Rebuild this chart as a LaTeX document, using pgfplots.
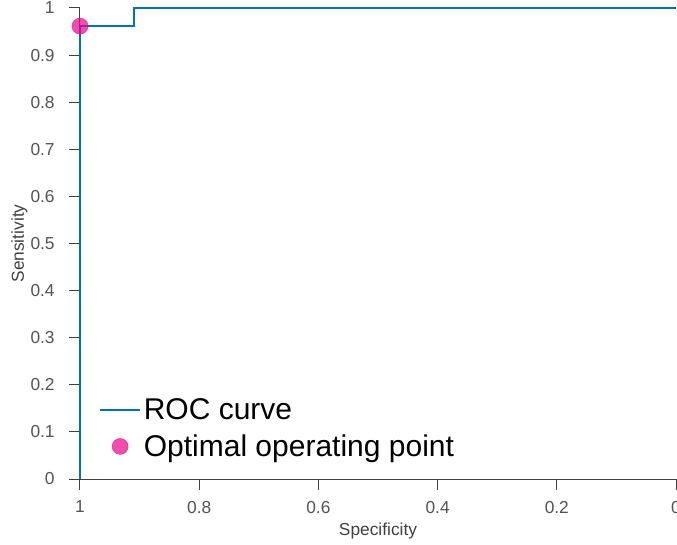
\documentclass[border=0pt]{standalone}
\usepackage{pgfplots}
\pgfplotsset{compat=1.18}
\usepackage{fontspec}
\setmainfont{Liberation Sans}
\definecolor{matblue}{RGB}{0,114,189}
\definecolor{axgray}{RGB}{64,64,64}
\begin{document}
\begin{tikzpicture}[x=1pt,y=1pt]
\begin{axis}[
  at={(0,0)}, anchor=south west,
  scale only axis,
  width=447pt, height=353.25pt,
  xmin=0, xmax=1, ymin=0, ymax=1,
  x dir=reverse,
  axis lines*=left,
  clip=false,
  axis line style={axgray, line width=0.75pt},
  tick style={axgray, line width=0.75pt},
  tick align=outside,
  major tick length=8pt,
  xtick={0,0.2,0.4,0.6,0.8,1},
  xticklabels={0,0.2,0.4,0.6,0.8,1},
  ytick={0,0.1,0.2,0.3,0.4,0.5,0.6,0.7,0.8,0.9,1},
  yticklabels={0,0.1,0.2,0.3,0.4,0.5,0.6,0.7,0.8,0.9,1},
  ticklabel style={font=\fontsize{13}{15}\selectfont, text=axgray!90},
  xticklabel style={yshift=-5pt},
  yticklabel style={xshift=-7.5pt},
  label style={font=\fontsize{13}{15}\selectfont, text=axgray},
  xlabel={Specificity},
  ylabel={Sensitivity},
  xlabel style={at={(axis description cs:0.5,0)}, anchor=center, yshift=-39pt},
  ylabel style={at={(axis description cs:0,0.5)}, anchor=center, yshift=45.5pt},
  legend style={draw=none, fill=none, at={(0.025,0.032)}, anchor=south west,
    font=\fontsize{22.5}{27}\selectfont, row sep=5.75pt,
    legend cell align=left},
  legend image code/.code={\draw[#1] (0pt,0pt) -- (30pt,0pt);},
]
\addplot[matblue, line width=1.5pt] coordinates {
  (1,0) (1,0.9615) (0.909,0.9615) (0.909,1) (0,1)
};
\addlegendentry{ROC curve}
\addplot[only marks, mark=*, mark size=6pt, draw=magenta, fill=magenta, fill opacity=0.7, draw opacity=0.7,
  legend image code/.code={\fill[magenta] (15pt,0pt) circle (6pt);}] coordinates {
  (1,0.9615)
};
\addlegendentry{Optimal operating point}
\end{axis}
\pgfresetboundingbox
\path[use as bounding box] (-60pt,-49.5pt) rectangle (447.75pt,359.25pt);
\end{tikzpicture}
\end{document}
